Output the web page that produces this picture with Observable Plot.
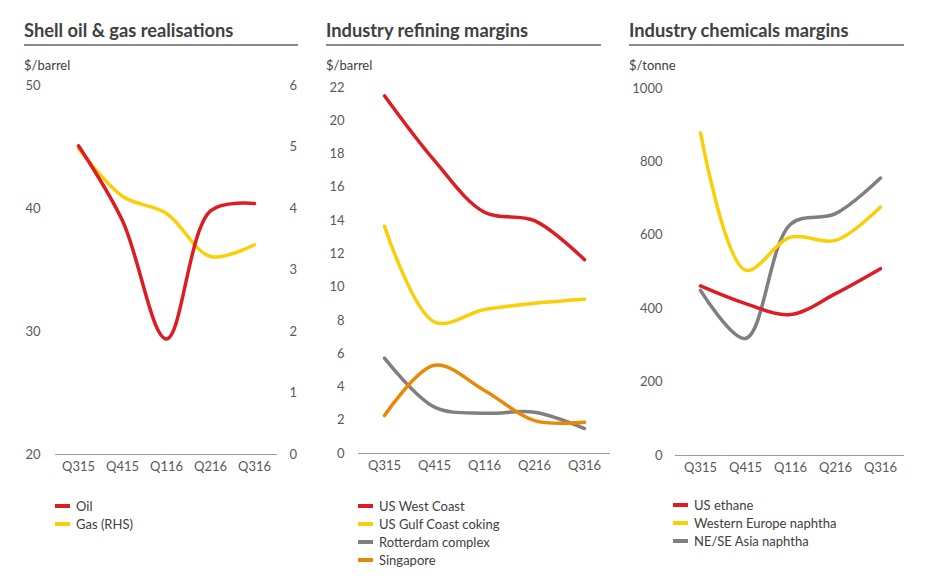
<!DOCTYPE html>
<html>
<head>
<meta charset="utf-8">
<script src="https://cdn.jsdelivr.net/npm/d3@7"></script>
<script src="https://cdn.jsdelivr.net/npm/@observablehq/plot@0.6"></script>
<style>
  html, body { margin: 0; padding: 0; background: #fff; }
  #root { position: relative; width: 937px; height: 581px; overflow: hidden; font-family: Lato, sans-serif; color: #404040; }
  .title { position: absolute; font-weight: 700; font-size: 18.3px; line-height: 20px; color: #404040; white-space: nowrap; }
  .rule { position: absolute; height: 2px; background: #8a8a8a; }
  .unit { position: absolute; font-size: 13px; line-height: 16px; color: #404040; white-space: nowrap; }
  .plot { position: absolute; }
  .legend { position: absolute; font-size: 13px; line-height: 18px; color: #404040; }
  .legend div { display: flex; align-items: center; white-space: nowrap; }
  .legend span.sw { display: inline-block; width: 15px; height: 4px; margin-right: 6px; }
</style>
</head>
<body>
<div id="root"></div>
<script>
// ---- data ----
const quarters = ["Q315", "Q415", "Q116", "Q216", "Q316"];

const oil = [45.1, 39.0, 29.4, 39.8, 40.4];          // $/barrel (LHS)
const gas = [4.98, 4.2, 3.92, 3.22, 3.41];           // RHS
const oilTicks = [20, 30, 40, 50];
const gasTicks = [0, 1, 2, 3, 4, 5, 6];

const usWestCoast = [21.5, 17.6, 14.5, 14.0, 11.65];
const usGulfCoking = [13.66, 7.9, 8.65, 9.03, 9.27];
const rotterdam = [5.73, 2.79, 2.42, 2.48, 1.5];
const singapore = [2.28, 5.3, 3.79, 1.98, 1.88];
const refTicks = [0, 2, 4, 6, 8, 10, 12, 14, 16, 18, 20, 22];

const usEthane = [462, 414, 384, 441, 509];
const weNaphtha = [879, 505, 595, 586, 677];
const asiaNaphtha = [450, 319, 630, 659, 756];
const chemTicks = [0, 200, 400, 600, 800, 1000];

const RED = "#dd1d21", YELLOW = "#fbce07", GRAY = "#7f7f7f", ORANGE = "#eb8705";

const root = document.getElementById("root");
function add(cls, css, text) {
  const d = document.createElement("div");
  d.className = cls;
  Object.assign(d.style, css);
  if (text != null) d.textContent = text;
  root.appendChild(d);
  return d;
}
function rows(vals) { return quarters.map((q, i) => ({q, v: vals[i]})); }

const plotStyle = {fontFamily: "Lato, sans-serif", fontSize: "13px", color: "#595959", background: "transparent", overflow: "visible"};
const lineOpts = {x: "q", y: "v", strokeWidth: 3.5, curve: "catmull-rom"};
const fmt = d => String(d);

function panelHeader(x, w, title, unit) {
  add("title", {left: x + "px", top: "20px"}, title);
  add("rule", {left: x + "px", top: "44px", width: w + "px"});
  add("unit", {left: x + "px", top: "57px"}, unit);
}
function legend(x, y, items) {
  const l = add("legend", {left: x + "px", top: y + "px"});
  for (const [label, color] of items) {
    const r = document.createElement("div");
    const sw = document.createElement("span");
    sw.className = "sw"; sw.style.background = color;
    r.appendChild(sw);
    r.appendChild(document.createTextNode(label));
    l.appendChild(r);
  }
}

// ---- Panel 1 ----
panelHeader(24, 274, "Shell oil & gas realisations", "$/barrel");
{
  const p = Plot.plot({
    width: 310, height: 420,
    marginLeft: 55, marginRight: 33, marginTop: 15, marginBottom: 36,
    style: plotStyle,
    x: {type: "point", domain: quarters, padding: 0.5},
    y: {domain: [20, 50]},
    marks: [
      Plot.axisY({ticks: oilTicks, tickFormat: fmt, tickSize: 0, tickPadding: 15, label: null}),
      Plot.axisY({anchor: "right", ticks: gasTicks.map(g => 20 + g * 5), tickFormat: d => String(Math.round((d - 20) / 5)), tickSize: 0, tickPadding: 12, label: null}),
      Plot.axisX({tickSize: 0, tickPadding: 7, label: null}),
      Plot.ruleY([20], {stroke: "#9a9a9a", strokeWidth: 1}),
      Plot.line(rows(gas), {...lineOpts, y: d => 20 + d.v * 5, stroke: YELLOW}),
      Plot.line(rows(oil), {...lineOpts, stroke: RED})
    ]
  });
  p.classList.add("plot");
  Object.assign(p.style, {left: "0px", top: "70px"});
  root.appendChild(p);
}
legend(55, 497, [["Oil", RED], ["Gas (RHS)", YELLOW]]);

// ---- Panel 2 ----
panelHeader(326, 275, "Industry refining margins", "$/barrel");
{
  const p = Plot.plot({
    width: 310, height: 420,
    marginLeft: 48, marginRight: 10, marginTop: 17, marginBottom: 37,
    style: plotStyle,
    x: {type: "point", domain: quarters, padding: 0.5},
    y: {domain: [0, 22]},
    marks: [
      Plot.axisY({ticks: refTicks, tickFormat: fmt, tickSize: 0, tickPadding: 14, label: null}),
      Plot.axisX({tickSize: 0, tickPadding: 7, label: null}),
      Plot.ruleY([0], {stroke: "#9a9a9a", strokeWidth: 1}),
      Plot.line(rows(rotterdam), {...lineOpts, stroke: GRAY}),
      Plot.line(rows(singapore), {...lineOpts, stroke: ORANGE}),
      Plot.line(rows(usGulfCoking), {...lineOpts, stroke: YELLOW}),
      Plot.line(rows(usWestCoast), {...lineOpts, stroke: RED})
    ]
  });
  p.classList.add("plot");
  Object.assign(p.style, {left: "310px", top: "70px"});
  root.appendChild(p);
}
legend(358, 497, [["US West Coast", RED], ["US Gulf Coast coking", YELLOW], ["Rotterdam complex", GRAY], ["Singapore", ORANGE]]);

// ---- Panel 3 ----
panelHeader(629, 275, "Industry chemicals margins", "$/tonne");
{
  const p = Plot.plot({
    width: 322, height: 420,
    marginLeft: 60, marginRight: 33, marginTop: 18, marginBottom: 35,
    style: plotStyle,
    x: {type: "point", domain: quarters, padding: 0.5},
    y: {domain: [0, 1000]},
    marks: [
      Plot.axisY({ticks: chemTicks, tickFormat: fmt, tickSize: 0, tickPadding: 13, label: null}),
      Plot.axisX({tickSize: 0, tickPadding: 7, label: null}),
      Plot.ruleY([0], {stroke: "#9a9a9a", strokeWidth: 1}),
      Plot.line(rows(asiaNaphtha), {...lineOpts, stroke: GRAY}),
      Plot.line(rows(usEthane), {...lineOpts, stroke: RED}),
      Plot.line(rows(weNaphtha), {...lineOpts, stroke: YELLOW})
    ]
  });
  p.classList.add("plot");
  Object.assign(p.style, {left: "615px", top: "70px"});
  root.appendChild(p);
}
legend(673, 496, [["US ethane", RED], ["Western Europe naphtha", YELLOW], ["NE/SE Asia naphtha", GRAY]]);
</script>
</body>
</html>
